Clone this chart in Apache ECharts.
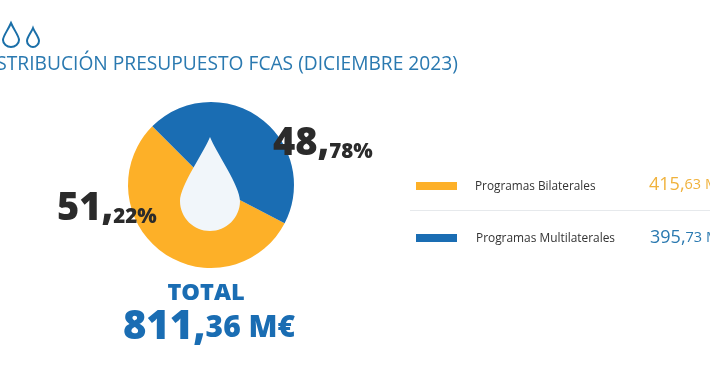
<!DOCTYPE html>
<html>
<head>
<meta charset="utf-8">
<style>
  html, body { margin: 0; padding: 0; background: #fff; overflow: hidden; }
  #chart { width: 710px; height: 375px; }
</style>
<script src="https://cdn.jsdelivr.net/npm/echarts@6/dist/echarts.min.js"></script>
</head>
<body>
<div id="chart"></div>
<script>
const categories = ['Programas Bilaterales', 'Programas Multilaterales'];
// slice sizes as drawn in the picture (about 198deg / 162deg), they do not follow the printed percentages
const drawnShare = [54.86, 45.14];
const percentWhole = ['51,', '48,'];
const percentDecimal = ['22%', '78%'];
const amountWhole = ['415,', '395,'];
const amountDecimal = ['63 M€', '73 M€'];
const totalWhole = '811,';
const totalDecimal = '36 M€';
const titleText = 'DISTRIBUCIÓN PRESUPUESTO FCAS (DICIEMBRE 2023)';

const orange = '#fdb028';
const blue = '#1a6db3';
const font = '"Open Sans", "Noto Sans", sans-serif';

// graphic has no plain path type, so the drops are registered as shapes
echarts.graphic.registerShape('dropBig', echarts.graphic.extendPath('M210 137 C204 152 180 186 180 201 C180 218 194 231 210 231 C226 231 240 218 240 201 C240 186 216 152 210 137 Z'));
echarts.graphic.registerShape('iconA', echarts.graphic.extendPath('M11 23 C8 30 3 36 3 40 C3 44 7 47 11 47 C15 47 19 44 19 40 C19 36 14 30 11 23 Z'));
echarts.graphic.registerShape('iconB', echarts.graphic.extendPath('M33 28 C31 33 27 37 27 41 C27 44 30 47 33 47 C36 47 39 44 39 41 C39 37 35 33 33 28 Z'));

const chart = echarts.init(document.getElementById('chart'), null, { renderer: 'canvas' });

const labelPos = [[57, 186], [273, 121]];

const option = {
  backgroundColor: '#fff',
  animation: false,
  series: [{
    type: 'pie',
    center: [211, 185],
    radius: [0, 83],
    startAngle: -27.5,
    clockwise: true,
    silent: true,
    itemStyle: { borderWidth: 0 },
    labelLine: { show: false },
    label: {
      show: true,
      position: 'inside',
      formatter: function (p) {
        return '{big|' + percentWhole[p.dataIndex] + '}{small|' + percentDecimal[p.dataIndex] + '}';
      },
      rich: {
        big: { fontFamily: font, fontSize: 38, fontWeight: 800, color: '#2b2b2b', lineHeight: 42, verticalAlign: 'bottom' },
        small: { fontFamily: font, fontSize: 20.5, fontWeight: 800, color: '#2b2b2b', lineHeight: 36, verticalAlign: 'bottom' }
      }
    },
    labelLayout: function (p) {
      return { x: labelPos[p.dataIndex][0], y: labelPos[p.dataIndex][1], align: 'left', verticalAlign: 'top', hideOverlap: false };
    },
    data: categories.map(function (name, i) {
      return { name: name, value: drawnShare[i], itemStyle: { color: i === 0 ? orange : blue } };
    })
  }],
  graphic: [
    // centre drop
    { type: 'dropBig', z: 10, style: { fill: '#f1f6fa' } },
    // title icons
    { type: 'iconA', z: 10, style: { fill: 'none', stroke: '#1a6fa8', lineWidth: 2 } },
    { type: 'iconB', z: 10, style: { fill: 'none', stroke: '#1a6fa8', lineWidth: 2 } },
    // title, starts outside the left edge like the reference
    { type: 'text', z: 10, x: -23, y: 65, style: { text: titleText, fontFamily: font, fontSize: 19.2, fill: '#2a79b0', textVerticalAlign: 'middle' } },
    // legend
    { type: 'rect', z: 10, shape: { x: 416, y: 182, width: 41, height: 8 }, style: { fill: orange } },
    { type: 'rect', z: 10, shape: { x: 416, y: 234, width: 41, height: 8 }, style: { fill: blue } },
    { type: 'line', z: 10, shape: { x1: 410, y1: 210.5, x2: 710, y2: 210.5 }, style: { stroke: '#e6e9ec', lineWidth: 1 } },
    { type: 'text', z: 10, x: 475, y: 187, style: { text: categories[0], fontFamily: font, fontSize: 11.8, fill: '#333', textVerticalAlign: 'middle' } },
    { type: 'text', z: 10, x: 476, y: 239, style: { text: categories[1], fontFamily: font, fontSize: 11.9, fill: '#333', textVerticalAlign: 'middle' } },
    { type: 'text', z: 10, x: 649, y: 185, style: {
      text: '{a|' + amountWhole[0] + '}{b|' + amountDecimal[0] + '}', textVerticalAlign: 'middle',
      rich: { a: { fontFamily: font, fontSize: 18, fill: '#f0b23c' }, b: { fontFamily: font, fontSize: 14.5, fill: '#f0b23c' } }
    } },
    { type: 'text', z: 10, x: 650, y: 238, style: {
      text: '{a|' + amountWhole[1] + '}{b|' + amountDecimal[1] + '}', textVerticalAlign: 'middle',
      rich: { a: { fontFamily: font, fontSize: 18, fill: '#2a79b0' }, b: { fontFamily: font, fontSize: 14.5, fill: '#2a79b0' } }
    } },
    // total
    { type: 'text', z: 10, x: 206, y: 293, style: { text: 'TOTAL', fontFamily: font, fontSize: 23.5, fontWeight: 800, fill: blue, textAlign: 'center', textVerticalAlign: 'middle' } },
    { type: 'text', z: 10, x: 209, y: 328, style: {
      text: '{a|' + totalWhole + '}{b|' + totalDecimal + '}', textAlign: 'center', textVerticalAlign: 'middle',
      rich: { a: { fontFamily: font, fontSize: 40, fontWeight: 800, fill: blue }, b: { fontFamily: font, fontSize: 30, fontWeight: 800, fill: blue } }
    } }
  ]
};

chart.setOption(option);
</script>
</body>
</html>
